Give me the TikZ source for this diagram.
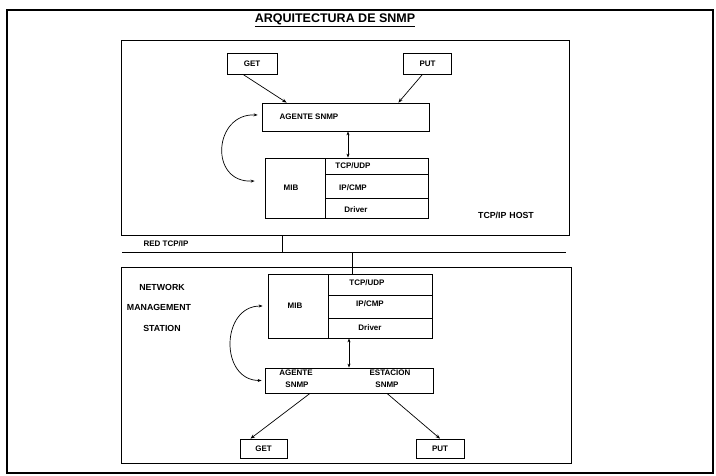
\documentclass[tikz,border=0pt]{standalone}
\usepackage{fontspec}
\setmainfont{Liberation Sans}
\usetikzlibrary{arrows.meta}
\begin{document}
\begin{tikzpicture}[x=1pt,y=-1pt,
  box/.style={draw, line width=0.8pt, inner sep=0pt, minimum width=#1},
  lbl/.style={font=\bfseries\fontsize{8}{9}\selectfont, inner sep=0pt},
  biglbl/.style={font=\bfseries\fontsize{8.8}{10}\selectfont, inner sep=0pt},
  arr/.style={line width=0.7pt, -{Stealth[length=4.5pt,width=3.5pt]}},
  dbl/.style={line width=0.7pt, {Stealth[length=4pt,width=3pt]}-{Stealth[length=4pt,width=3pt]}},
  plain/.style={line width=0.8pt}]
\useasboundingbox (0,0) rectangle (716,475);
% frame
\node[draw, line width=1.2pt, minimum width=706pt, minimum height=463pt, inner sep=0pt] (frame) at (360,241.5) {};
\node[font=\bfseries\fontsize{12.5}{14}\selectfont, inner sep=0pt] (title) at (335,20) {\underline{ARQUITECTURA DE SNMP}};
% upper host
\node[box=448pt, minimum height=195pt] (uhost) at (345,137.5) {};
\node[box=50pt, minimum height=21pt] (uget) at (252,63.5) {};
\node[lbl] (ugett) at (uget) {GET};
\node[box=48pt, minimum height=21pt] (uput) at (427.5,63.5) {};
\node[lbl] (uputt) at (uput) {PUT};
\node[box=167pt, minimum height=28pt] (uagent) at (345.5,117) {};
\node[lbl] (uagentt) at (309,117) {AGENTE SNMP};
\node[box=60pt, minimum height=60pt] (umibcol) at (295,188) {};
\node[lbl] (umibt) at (291,188) {MIB};
\node[box=103pt, minimum height=16pt] (utcp) at (376.5,166) {};
\node[box=103pt, minimum height=24pt] (uip) at (376.5,186) {};
\node[box=103pt, minimum height=20pt] (udrv) at (376.5,208) {};
\node[lbl] (utcpt) at (353,166) {TCP/UDP};
\node[lbl] (uipt) at (353,188) {IP/CMP};
\node[lbl] (udrvt) at (356,210) {Driver};
\node[biglbl] (hostt) at (506,215) {TCP/IP\,\,HOST};
% upper connectors
\draw[arr] ([xshift=-9pt]uget.south) -- ([xshift=25pt]uagent.north west);
\draw[arr] ([xshift=-5pt]uput.south) -- ([xshift=-31pt]uagent.north east);
\draw[dbl] ([xshift=2.5pt]uagent.south) -- ([xshift=2.5pt]uagent.south |- utcp.north);
\draw[dbl] ([xshift=-4pt,yshift=2pt]uagent.west) .. controls +(-44,-2) and +(-46,2) .. ([xshift=-10pt,yshift=7pt]umibcol.west);
% network
\coordinate (redL) at (122,252);
\coordinate (redR) at (566,252);
\draw[plain] (redL) -- (redR);
\node[lbl] (redt) at (166,244) {RED TCP/IP};
\coordinate (tapU) at (282,252);
\coordinate (tapL) at (352,252);
% lower station
\node[box=450pt, minimum height=196pt] (lhost) at (346,365) {};
\node[biglbl] (net1) at (162,287) {NETWORK};
\node[biglbl] (net2) at (159,307) {MANAGEMENT};
\node[biglbl] (net3) at (162,328) {STATION};
\node[box=60pt, minimum height=64pt] (lmibcol) at (298,306) {};
\node[lbl] (lmibt) at (295,306) {MIB};
\node[box=104pt, minimum height=21pt] (ltcp) at (380,284.5) {};
\node[box=104pt, minimum height=23pt] (lip) at (380,306.5) {};
\node[box=104pt, minimum height=20pt] (ldrv) at (380,328) {};
\node[lbl] (ltcpt) at (367,283) {TCP/UDP};
\node[lbl] (lipt) at (370,304) {IP/CMP};
\node[lbl] (ldrvt) at (370,328) {Driver};
\node[box=168pt, minimum height=25pt] (lagent) at (349,380.5) {};
\node[lbl] (lag1) at (296,373) {AGENTE};
\node[lbl] (lag2) at (297,384.5) {SNMP};
\node[lbl] (les1) at (390,373) {ESTACION};
\node[lbl] (les2) at (387,384.5) {SNMP};
\node[box=47pt, minimum height=19pt] (lget) at (263.5,448.5) {};
\node[lbl] (lgett) at (lget) {GET};
\node[box=48pt, minimum height=19pt] (lput) at (440,448.5) {};
\node[lbl] (lputt) at (lput) {PUT};
% taps
\draw[plain] (tapU |- uhost.south) -- (tapU);
\draw[plain] (tapL) -- (tapL |- ltcp.north);
% lower connectors
\draw[dbl] (lagent.north) -- (lagent.north |- ldrv.south);
\draw[dbl] ([xshift=-5pt]lmibcol.west) .. controls +(-42,0) and +(-42,0) .. ([xshift=-3pt]lagent.west);
\draw[arr] ([xshift=-39pt]lagent.south) -- ([xshift=-13pt]lget.north);
\draw[arr] ([xshift=38pt]lagent.south) -- (lput.north);
\end{tikzpicture}
\end{document}
